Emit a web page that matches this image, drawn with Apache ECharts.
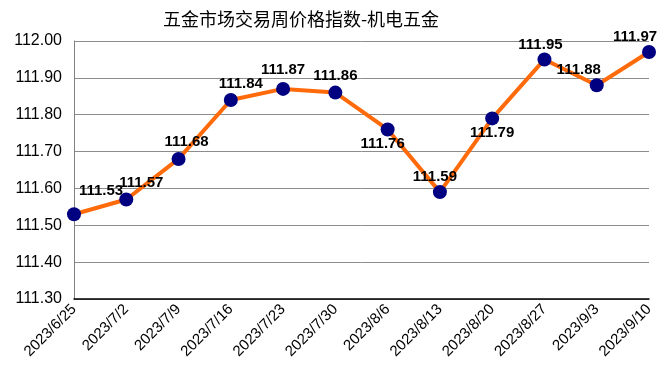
<!DOCTYPE html>
<html><head><meta charset="utf-8">
<script src="https://cdn.jsdelivr.net/npm/echarts@6/dist/echarts.min.js"></script>
<style>html,body{margin:0;padding:0;background:#fff}#c{width:658px;height:383px}</style>
</head><body><div id="c"></div>
<script>
const categories = ['2023/6/25','2023/7/2','2023/7/9','2023/7/16','2023/7/23','2023/7/30','2023/8/6','2023/8/13','2023/8/20','2023/8/27','2023/9/3','2023/9/10'];
const values = [111.53,111.57,111.68,111.84,111.87,111.86,111.76,111.59,111.79,111.95,111.88,111.97];
const title = '五金市场交易周价格指数-机电五金';

// label placement (layout only)
const labelOffsets = [[27,-23],[15,-17],[8,-17],[10,-16],[0,-19],[0,-17],[-5,14],[-5,-15],[0,14],[-4,-15],[-18,-15],[-14,-15]];

const chart = echarts.init(document.getElementById('c'));
chart.setOption({
  animation:false,
  title:{text:title,left:296,textAlign:'center',top:5,textStyle:{fontFamily:'Noto Sans CJK SC',fontSize:18,fontWeight:'normal',color:'#000'}},
  grid:{left:74,right:9,top:41,bottom:84},
  xAxis:{type:'category',data:categories,boundaryGap:false,
    axisLine:{lineStyle:{color:'#000',width:1.5}},axisTick:{show:false},
    axisLabel:{rotate:45,fontSize:15,color:'#000',fontFamily:'Arial, Liberation Sans',margin:8,interval:0}},
  yAxis:{type:'value',min:111.3,max:112.0,interval:0.1,
    axisLine:{show:true,lineStyle:{color:'#808080'}},axisTick:{show:false},
    splitLine:{lineStyle:{color:'#8c8c8c',width:1}},
    axisLabel:{formatter:v=>v.toFixed(2),fontSize:16,color:'#000',fontFamily:'Arial, Liberation Sans',margin:12}},
  series:[{type:'line',
    data:values.map((v,i)=>({value:v,label:{offset:labelOffsets[i]}})),
    lineStyle:{color:'#FF6A0A',width:4},
    symbol:'circle',symbolSize:14,
    itemStyle:{color:'#000080'},
    label:{show:true,position:'inside',formatter:p=>p.value.toFixed(2),fontSize:15,fontWeight:'bold',color:'#000',fontFamily:'Arial, Liberation Sans'}
  }]
});
</script></body></html>
